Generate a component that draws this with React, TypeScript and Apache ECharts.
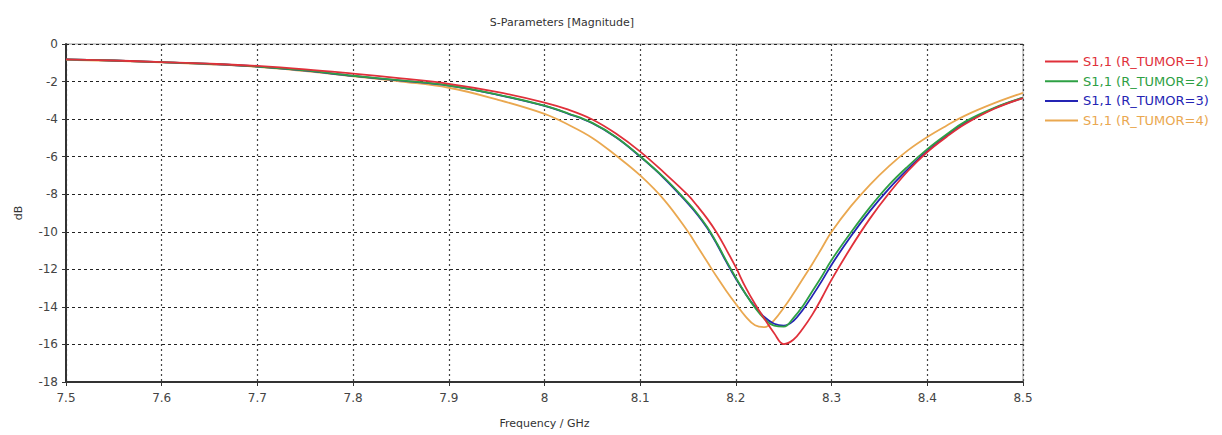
import React, { useEffect, useRef } from "react";
import * as echarts from "echarts";

const freqs = [7.5, 7.55, 7.6, 7.65, 7.7, 7.75, 7.8, 7.85, 7.9, 7.95, 8.0, 8.025, 8.05, 8.075, 8.1, 8.125, 8.15, 8.16, 8.17, 8.18, 8.19, 8.2, 8.21, 8.22, 8.23, 8.24, 8.25, 8.26, 8.27, 8.28, 8.29, 8.3, 8.32, 8.34, 8.36, 8.38, 8.4, 8.42, 8.44, 8.47, 8.5];

const r1 = [-0.82, -0.88, -0.96, -1.05, -1.17, -1.35, -1.58, -1.83, -2.12, -2.55, -3.12, -3.5, -4.02, -4.78, -5.73, -6.85, -8.05, -8.65, -9.3, -10.05, -10.95, -11.9, -12.95, -13.85, -14.65, -15.4, -15.98, -15.75, -15.15, -14.4, -13.5, -12.55, -10.85, -9.3, -7.95, -6.75, -5.75, -4.95, -4.25, -3.45, -2.88];
const r2 = [-0.82, -0.88, -0.97, -1.06, -1.2, -1.41, -1.69, -1.94, -2.21, -2.68, -3.28, -3.7, -4.2, -4.96, -5.98, -7.12, -8.45, -9.05, -9.75, -10.6, -11.55, -12.45, -13.3, -14.05, -14.65, -15.0, -15.05, -14.6, -13.95, -13.15, -12.35, -11.5, -10.05, -8.7, -7.5, -6.5, -5.6, -4.82, -4.12, -3.4, -2.86];
const r3 = [-0.82, -0.88, -0.97, -1.06, -1.2, -1.42, -1.7, -1.95, -2.22, -2.7, -3.3, -3.72, -4.22, -4.98, -6.0, -7.15, -8.5, -9.1, -9.8, -10.65, -11.6, -12.5, -13.3, -14.0, -14.55, -14.9, -15.0, -14.75, -14.15, -13.4, -12.6, -11.75, -10.25, -8.9, -7.7, -6.65, -5.7, -4.9, -4.2, -3.42, -2.87];
const r4 = [-0.85, -0.9, -0.98, -1.08, -1.22, -1.45, -1.72, -2.0, -2.33, -2.95, -3.72, -4.3, -5.0, -5.95, -7.0, -8.3, -10.0, -10.8, -11.6, -12.4, -13.15, -13.85, -14.5, -14.98, -15.08, -14.7, -14.05, -13.3, -12.5, -11.7, -10.85, -10.0, -8.65, -7.5, -6.5, -5.65, -4.95, -4.35, -3.8, -3.15, -2.6];

const seriesNames = ["S1,1 (R_TUMOR=1)", "S1,1 (R_TUMOR=2)", "S1,1 (R_TUMOR=3)", "S1,1 (R_TUMOR=4)"];
const seriesColors = ["#e0303a", "#2ea044", "#2424b4", "#eaa850"];
const seriesData = [r1, r2, r3, r4];

const FONT = "DejaVu Sans";

export default function App() {
  const ref = useRef<HTMLDivElement>(null);
  useEffect(() => {
    if (!ref.current) return;
    const chart = echarts.init(ref.current, undefined, { renderer: "svg" });
    const option: any = {
      animation: false,
      backgroundColor: "#ffffff",
      title: {
        text: "S-Parameters [Magnitude]",
        left: 557,
        top: 12,
        textAlign: "center",
        textStyle: { fontFamily: FONT, fontSize: 11, fontWeight: "normal", color: "#333" },
      },
      legend: {
        orient: "vertical",
        left: 1040,
        top: 50,
        itemWidth: 33,
        itemHeight: 2,
        itemGap: 6.7,
        icon: "rect",
        textStyle: { fontFamily: FONT, fontSize: 13 },
        data: seriesNames.map((n, i) => ({ name: n, textStyle: { color: seriesColors[i] } })),
      },
      grid: {
        left: 66,
        right: 199,
        top: 44,
        bottom: 53,
        show: true,
        borderColor: "#999",
        borderWidth: 1,
      },
      xAxis: {
        type: "value",
        min: 7.5,
        max: 8.5,
        interval: 0.1,
        name: "Frequency / GHz",
        nameLocation: "middle",
        nameGap: 36,
        nameTextStyle: { fontFamily: FONT, fontSize: 11, color: "#333" },
        axisLine: { show: true, onZero: false, lineStyle: { color: "#333", width: 2 } },
        axisTick: { show: true, length: 4, lineStyle: { color: "#333" } },
        axisLabel: {
          fontFamily: FONT,
          fontSize: 12,
          color: "#444",
          margin: 10,
          formatter: (v: number) => String(parseFloat(v.toFixed(1))),
        },
        splitLine: { show: true, lineStyle: { color: "#444", type: [2, 3], width: 1.2 } },
      },
      yAxis: {
        type: "value",
        min: -18,
        max: 0,
        interval: 2,
        name: "dB",
        nameLocation: "middle",
        nameGap: 42,
        nameRotate: 90,
        nameTextStyle: { fontFamily: FONT, fontSize: 11, color: "#333" },
        axisLine: { show: true, onZero: false, lineStyle: { color: "#333", width: 2 } },
        axisTick: { show: true, length: 4, lineStyle: { color: "#333" } },
        axisLabel: { fontFamily: FONT, fontSize: 12, color: "#444", margin: 8 },
        splitLine: { show: true, lineStyle: { color: "#222", type: [3, 3], width: 1.2 } },
      },
      series: seriesNames.map((n, i) => ({
        name: n,
        type: "line",
        data: freqs.map((f, j) => [f, seriesData[i][j]]),
        smooth: 0.4,
        showSymbol: false,
        symbol: "none",
        lineStyle: { color: seriesColors[i], width: 1.8 },
        itemStyle: { color: seriesColors[i] },
        z: 10 - i,
      })),
    };
    chart.setOption(option);
    return () => chart.dispose();
  }, []);
  return <div ref={ref} style={{ position: "fixed", left: 0, top: 0, width: 1222, height: 435 }} />;
}
